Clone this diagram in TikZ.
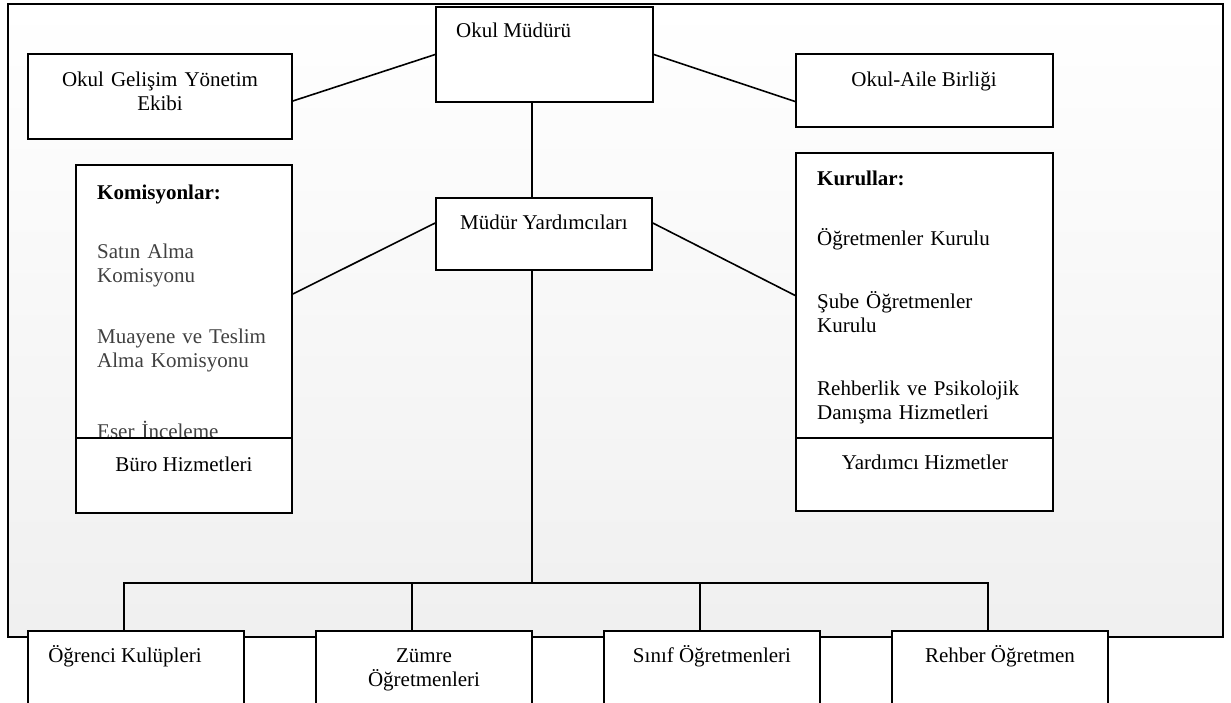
\documentclass[tikz,border=0pt]{standalone}
\usepackage{fontspec}
\setmainfont{Liberation Serif}
\usetikzlibrary{positioning,fit,calc}

\tikzset{
    kutu/.style={draw, line width=1.6pt, fill=white, inner sep=0pt},
    yazi/.style={font=\fontsize{21}{24}\selectfont, inner sep=0pt},
    hat/.style={line width=1.6pt},
}

\begin{document}
\begin{tikzpicture}[x=1pt,y=-1pt]
    \useasboundingbox (0,0) rectangle (1231,702);
    \clip (0,0) rectangle (1231,702);

    % dis cerceve
    \node[draw, line width=2.6pt, inner sep=0pt, fit={(8,4) (1223,637)},
        top color=white, bottom color=black!6] (cerceve) {};

    % ust kutular
    \node[kutu, fit={(436,7) (653,102)}] (mudur) {};
    \node[kutu, fit={(28,54) (292,139)}] (gelisim) {};
    \node[kutu, fit={(796,54) (1053,127)}] (aile) {};
    \node[kutu, fit={(436,198) (652,270)}] (yardimci) {};
    \coordinate (omurga) at (532,583);

    \node[yazi, anchor=base west] (mudur-y) at (456,37) {Okul Müdürü};
    \node[yazi, anchor=base, text width=250pt, align=center] (gelisim-y) at (160,86)
        {Okul Gelişim Yönetim\\Ekibi};
    \node[yazi, anchor=base] (aile-y) at (924,86) {Okul-Aile Birliği};
    \node[yazi, anchor=base] (yardimci-y) at (544,229) {Müdür Yardımcıları};

    % komisyonlar
    \node[kutu, fit={(76,165) (292,438)}] (komisyon) {};
    \node[yazi, anchor=base west, text width=200pt, align=left] (komisyon-y) at (97,199)
        {\textbf{Komisyonlar:}\\[35pt]
        \color{black!75}Satın Alma\\Komisyonu\\[37pt]
        Muayene ve Teslim\\Alma Komisyonu\\[47pt]
        Eser İnceleme};
    \node[kutu, fit={(76,438) (292,513)}] (buro) {};
    \node[yazi, anchor=base] (buro-y) at (184,471) {Büro Hizmetleri};

    % kurullar
    \node[kutu, fit={(796,153) (1053,438)}] (kurul) {};
    \node[yazi, anchor=base west, text width=240pt, align=left] (kurul-y) at (817,185)
        {\textbf{Kurullar:}\\[36pt]
        Öğretmenler Kurulu\\[39pt]
        Şube Öğretmenler\\Kurulu\\[39pt]
        Rehberlik ve Psikolojik\\Danışma Hizmetleri};
    \node[kutu, fit={(796,438) (1053,511)}] (hizmet) {};
    \node[yazi, anchor=base] (hizmet-y) at (925,469) {Yardımcı Hizmetler};

    % alt kutular
    \foreach \ad/\x in {ogrenci/28, zumre/316, sinif/604, rehber/892}
        \node[kutu, fit={(\x,631) (\x+216,720)}] (\ad) {};
    \node[yazi, anchor=base] (ogrenci-y) at (125,662) {Öğrenci Kulüpleri};
    \node[yazi, anchor=base, text width=200pt, align=center] (zumre-y) at (424,662)
        {Zümre\\Öğretmenleri};
    \node[yazi, anchor=base] (sinif-y) at (712,662) {Sınıf Öğretmenleri};
    \node[yazi, anchor=base] (rehber-y) at (1000,662) {Rehber Öğretmen};

    % baglantilar
    \draw[hat] (mudur.west) -- ([yshift=-4.5pt]gelisim.east);
    \draw[hat] (mudur.east) -- ([yshift=-11pt]aile.west);
    \draw[hat] (mudur.south -| omurga) -- (yardimci.north -| omurga);
    \draw[hat] ([yshift=11pt]yardimci.west) -- ([yshift=7.5pt]komisyon.east);
    \draw[hat] ([yshift=11pt]yardimci.east) -- (kurul.west);
    \draw[hat] (yardimci.south -| omurga) -- (omurga);
    \draw[hat] ([xshift=-12pt]ogrenci.north) |- (omurga) -| ([xshift=-12pt]rehber.north);
    \foreach \ad in {zumre, sinif}
        \draw[hat] ([xshift=-12pt]\ad.north |- omurga) -- ([xshift=-12pt]\ad.north);

\end{tikzpicture}
\end{document}
